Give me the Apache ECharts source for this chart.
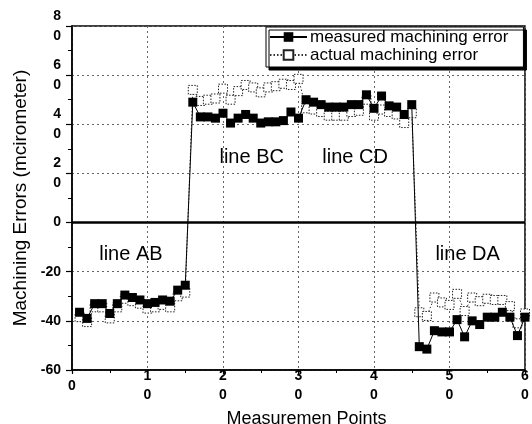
<!DOCTYPE html>
<html>
<head>
<meta charset="utf-8">
<script src="https://cdn.jsdelivr.net/npm/echarts@6/dist/echarts.min.js"></script>
<style>html,body{margin:0;padding:0;background:#fff}#c{width:532px;height:424px}</style>
</head>
<body>
<div id="c"></div>
<script>
// ---- data ----
var xPoints = [1,2,3,4,5,6,7,8,9,10,11,12,13,14,15,16,17,18,19,20,21,22,23,24,25,26,27,28,29,30,
               31,32,33,34,35,36,37,38,39,40,41,42,43,44,45,46,47,48,49,50,51,52,53,54,55,56,57,58,59,60];
var measured = [-36.5,-39,-33,-33,-37,-33,-29.5,-30.5,-31.5,-33,-32.5,-31.5,-32,-27.5,-25.5,
                49,43,43,42.5,44.5,40.5,42.5,44,42.5,40.5,41,41,41.5,45,42.5,
                50,49,48,47,47,47,48,48,52,46.5,51.5,47.5,47,44,48,
                -50.5,-51.5,-44,-44.5,-44.5,-39.5,-46.5,-40,-41.5,-38.5,-38.5,-36.5,-38.5,-46,-38.5];
var actual = [-38.5,-40.5,-34.5,-34.5,-39,-34.5,-31,-32,-33,-35,-34.5,-33.5,-34.5,-30,-28.5,
              54,49.5,50,50.5,54.5,50,53.5,56,55,53,55,55.5,56.5,56,58.5,
              46.5,46,45,43.5,43.5,43.5,45,45.5,50,43.5,46,45,44,40.5,44.5,
              -36.5,-38,-30.5,-32.5,-33.5,-29,-36,-30.5,-32,-31,-31.5,-31.5,-34,-41,-37];
var seriesNames = ['measured machining error', 'actual machining error'];
var xTickValues = [0,10,20,30,40,50,60];
var xTickLabels = ['0','1\n0','2\n0','3\n0','4\n0','5\n0','6\n0'];
var yTickValues = [-60,-40,-20,0,20,40,60,80];
var yTickLabels = ['-60','-40','-20','0','2\n0','4\n0','6\n0','8\n0'];
var segmentLabels = ['line AB','line BC','line CD','line DA'];
var segmentLabelPos = [[7.8,-12.8],[23.8,26.5],[37.5,26.5],[52.4,-12.8]];
var xTitle = 'Measuremen Points';
var yTitle = 'Machining Errors (mcirometer)';

function pairs(xs, ys){ var out=[]; for(var i=0;i<xs.length;i++) out.push([xs[i], ys[i]]); return out; }
function lookup(vals, labs, v){ var i = vals.indexOf(v); return i<0 ? '' : labs[i]; }

var chart = echarts.init(document.getElementById('c'), null, {renderer:'canvas'});
var FONT = '"Liberation Sans", Arial, sans-serif';
var option = {
  animation: false,
  backgroundColor: '#fff',
  textStyle: {fontFamily: FONT},
  grid: {left: 72, right: 7, top: 26, bottom: 54, containLabel: false, outerBoundsMode: 'none',
         show: true, borderColor: '#000', borderWidth: 1.5, backgroundColor: 'transparent'},
  legend: {
    orient: 'vertical', left: 266, top: 27,
    padding: [1, 15, 3, 3], itemGap: 0,
    itemWidth: 37, itemHeight: 12,
    backgroundColor: '#fff', borderColor: '#000', borderWidth: 1,
    shadowColor: '#000', shadowBlur: 0, shadowOffsetX: 3, shadowOffsetY: 3,
    textStyle: {fontFamily: FONT, fontSize: 17, color: '#000', lineHeight: 18, padding: [0,0,0,-2]},
    data: seriesNames
  },
  xAxis: {
    type: 'value', min: 0, max: 60, interval: 10,
    name: xTitle, nameLocation: 'middle', nameGap: 32,
    nameTextStyle: {fontFamily: FONT, fontSize: 18, color: '#000', padding: [0,0,0,16]},
    axisLine: {onZero: false, lineStyle: {color: '#000', width: 1.5}},
    axisTick: {length: 4, lineStyle: {color: '#000', width: 1.2}},
    minorTick: {show: true, splitNumber: 2, length: 3, lineStyle: {color: '#000', width: 1}},
    axisLabel: {margin: 16, verticalAlign: 'middle', fontFamily: FONT, fontWeight: 'bold', fontSize: 14, color: '#000', lineHeight: 19,
      formatter: function(v){ return lookup(xTickValues, xTickLabels, v); }},
    splitLine: {show: true, lineStyle: {color: '#666', width: 1, type: [2,3]}}
  },
  yAxis: {
    type: 'value', min: -60, max: 80, interval: 20,
    name: yTitle, nameLocation: 'middle', nameGap: 40,
    nameTextStyle: {fontFamily: FONT, fontSize: 19, color: '#000'},
    axisLine: {onZero: false, lineStyle: {color: '#000', width: 1.5}},
    axisTick: {length: 6, lineStyle: {color: '#000', width: 1.2}},
    minorTick: {show: true, splitNumber: 2, length: 4, lineStyle: {color: '#000', width: 1}},
    axisLabel: {margin: 11, fontFamily: FONT, fontWeight: 'bold', fontSize: 14, color: '#000', lineHeight: 20,
      formatter: function(v){ return lookup(yTickValues, yTickLabels, v); }},
    splitLine: {show: true, lineStyle: {color: '#666', width: 1, type: [2,3]}}
  },
  series: [
    {
      name: seriesNames[1], type: 'line', z: 2,
      data: pairs(xPoints, actual),
      symbol: 'rect', symbolSize: 9, showAllSymbol: true,
      lineStyle: {color: '#333', width: 1, type: [1.5,2]},
      itemStyle: {color: '#fff', borderColor: '#222', borderWidth: 1, borderType: [1.5,1.5]}
    },
    {
      name: seriesNames[0], type: 'line', z: 3,
      data: pairs(xPoints, measured),
      symbol: 'rect', symbolSize: 9, showAllSymbol: true,
      lineStyle: {color: '#000', width: 1},
      itemStyle: {color: '#000'},
      markLine: {
        silent: true, symbol: 'none', label: {show: false},
        lineStyle: {color: '#000', width: 2.5, type: 'solid'},
        data: [{yAxis: 0}]
      },
      markPoint: {
        silent: true, symbol: 'circle', symbolSize: 0,
        label: {show: true, position: 'inside', align: 'center', verticalAlign: 'middle',
          fontFamily: FONT, fontSize: 20, color: '#000', formatter: '{b}'},
        data: segmentLabels.map(function(t, i){ return {name: t, coord: segmentLabelPos[i]}; })
      }
    }
  ]
};
chart.setOption(option);
</script>
</body>
</html>
